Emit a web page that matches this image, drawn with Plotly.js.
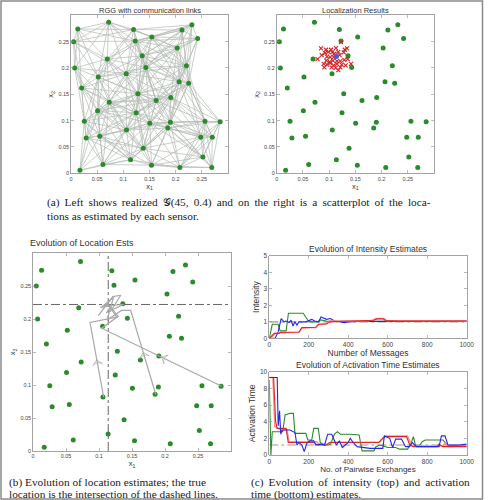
<!DOCTYPE html>
<html><head><meta charset="utf-8">
<script src="https://cdn.plot.ly/plotly-3.0.1.min.js"></script>
<style>html,body{margin:0;padding:0;background:#fff;}#chart{width:488px;height:500px;}</style>
</head><body><div id="chart"></div>
<script>
// ---------- data ----------
const sensorX = [0.013,0.072,0.005,0.007,0.1195,0.1227,0.1545,0.212,0.231,0.242,0.203,0.2206,0.2066,0.225,0.0693,0.136,0.143,0.1055,0.052,0.0203,0.1278,0.1627,0.1907,0.073,0.0508,0.1246,0.0254,0.1506,0.19,0.185,0.106,0.256,0.285,0.029,0.055,0.248,0.27,0.138,0.1138,0.061,0.1538,0.017,0.208,0.252,0.269];
const sensorY = [0.274,0.287,0.25,0.2,0.273,0.251,0.259,0.272,0.282,0.256,0.238,0.204,0.174,0.171,0.217,0.223,0.201,0.189,0.183,0.162,0.151,0.138,0.144,0.135,0.119,0.115,0.099,0.095,0.097,0.086,0.082,0.099,0.098,0.067,0.0705,0.0686,0.0686,0.0474,0.0256,0.0167,0.0154,0.0058,0.011,0.031,0.011];
const CONNECT_RADIUS = 0.12;

const estX = [0.0845,0.094,0.1035,0.113,0.1226,0.130,0.134,0.078,0.0858,0.0921,0.0985,0.106,0.110,0.1175,0.120,0.1278,0.096,0.102,0.1087,0.0946,0.101,0.1073,0.115,0.1214,0.129,0.1354,0.0896,0.096,0.102,0.1087,0.115,0.124,0.1125,0.1214,0.1315,0.1417,0.0908,0.1048,0.1175];
const estY = [0.237,0.2346,0.2346,0.2377,0.249,0.2346,0.237,0.2166,0.2243,0.228,0.2307,0.2295,0.227,0.2307,0.2243,0.2295,0.2217,0.2205,0.2205,0.214,0.2115,0.214,0.2128,0.2128,0.2153,0.2166,0.2077,0.2064,0.209,0.205,0.2077,0.2064,0.2,0.2013,0.205,0.2077,0.2013,0.2013,0.196];
const trueLocX = [0.114];
const trueLocY = [0.222];

const pathAX = [0.286,0.104,0.129,0.113,0.099,0.121,0.133,0.117];
const pathAY = [0.098,0.186,0.204,0.224,0.205,0.234,0.236,0.211];
const pathBX = [0.107,0.0864,0.127,0.112,0.102,0.119,0.111];
const pathBY = [0.0815,0.1947,0.203,0.224,0.217,0.221,0.209];
const pathCX = [0.186,0.148,0.134,0.112,0.122,0.107,0.137,0.116];
const pathCY = [0.0856,0.213,0.213,0.198,0.233,0.22,0.222,0.212];

const intRedX   = [0,15,25,50,55,150,165,235,250,290,305,350,400,500,530,545,575,590,650,800,1000];
const intRedY   = [0,0.15,0.3,0.3,0.35,0.38,0.65,0.67,0.85,0.87,1.0,1.02,1.03,1.05,1.1,1.18,1.18,1.08,1.05,1.05,1.05];
const intPinkX  = [0,20,30,55,150,165,235,250,290,305,390,500,525,540,580,595,1000];
const intPinkY  = [0,0.15,0.3,0.33,0.36,0.62,0.66,0.85,0.9,1.05,1.05,1.06,1.12,1.2,1.2,1.08,1.06];
const intGreenX = [0,15,45,55,85,97,172,195,210,245,258,290,350,500,600,1000];
const intGreenY = [0,0.85,0.85,0.45,0.45,1.52,1.52,1.1,1.0,1.0,1.12,1.05,1.03,1.05,1.04,1.05];
const intBlueX  = [0,30,45,60,75,85,100,110,120,130,140,150,185,200,215,230,250,262,275,290,310,330,360,385,400,450,600,1000];
const intBlueY  = [0,0,0.4,1.2,1.0,1.05,0.95,1.1,0.75,1.0,0.8,1.0,1.0,1.1,1.15,1.05,1.0,1.3,1.25,1.15,1.2,1.05,1.0,0.95,1.0,1.02,1.03,1.05];
const intRefX = [0,1000];
const intRefY = [1,1];

const actRedX   = [0,22,32,40,85,96,230,240,290,305,555,565,585,695,712,730,850,860,880,1000];
const actRedY   = [9.3,9.3,4.0,3.2,3.2,1.5,1.5,1.2,1.2,1.5,1.5,1.8,2.2,2.2,1.2,1.0,1.0,1.3,1.0,1.0];
const actPinkX  = [0,18,28,60,90,100,240,250,300,310,560,575,590,700,715,725,880,890,910,1000];
const actPinkY  = [9.3,9.3,3.4,3.0,3.0,1.6,1.6,1.3,1.3,1.55,1.55,2.0,2.3,2.3,1.5,1.1,1.1,1.4,1.0,1.1];
const actGreenX = [0,8,15,68,80,105,122,130,185,195,215,225,248,258,275,290,310,330,345,360,410,455,470,530,540,560,590,600,640,660,700,715,730,740,760,775,790,880,905,1000];
const actGreenY = [9.0,0,2.8,2.8,4.8,5.0,5.0,2.6,2.6,1.8,1.8,3.2,3.2,1.5,1.3,1.2,1.3,2.5,2.8,2.5,2.5,2.4,0.5,0.5,1.0,1.2,1.0,0.9,0.9,0.7,0.7,1.2,2.2,1.2,1.1,1.6,1.8,1.8,1.1,1.1];
const actBlueX  = [0,40,45,52,58,65,105,130,140,150,165,177,190,205,225,235,260,280,296,316,325,340,355,370,400,410,425,445,510,575,583,610,625,640,670,690,710,725,745,860,872,890,905,960,1000];
const actBlueY  = [9.3,9.3,3.5,5.3,2.5,3.0,3.0,2.7,1.2,1.5,1.2,0.4,1.4,1.7,1.7,1.2,1.3,1.2,2.5,2.5,2.0,1.2,1.7,0.9,1.5,2.0,1.5,1.0,0.8,0.8,2.3,2.0,0.9,1.9,1.9,1.0,1.0,1.5,1.0,1.0,2.3,2.3,1.2,1.2,1.3];
const actRefX = [0,1000];
const actRefY = [1.2,1.2];

const posTicks = [0,0.05,0.1,0.15,0.2,0.25];
const posTickText = ['0','0.05','0.1','0.15','0.2','0.25'];
const msgTicks = [0,200,400,600,800,1000];
const msgTickText = ['0','200','400','600','800','1000'];
const intTicks = [0,1,2,3,4,5];
const actTicks = [0,2,4,6,8,10];

// ---------- styles ----------
const W = 488, H = 500;
const xd = (l, r) => [l / W, r / W];
const yd = (t, b) => [1 - b / H, 1 - t / H];
const px = v => v / W, py = v => 1 - v / H;
const GREEN = '#2b8a2b', RED = '#e02626', BLUE = '#2626e6', PINK = '#ff8c8c', GRAYLINK = '#b3bab3', PATH = '#a8a8a8';
const SANS = 'Liberation Sans, Arial, sans-serif';
const SERIF = 'Liberation Serif, DejaVu Serif, serif';

// links derived from sensor positions (RGG)
const linkX = [], linkY = [];
for (let i = 0; i < sensorX.length; i++) {
  for (let j = i + 1; j < sensorX.length; j++) {
    const d = Math.hypot(sensorX[i] - sensorX[j], sensorY[i] - sensorY[j]);
    if (d <= CONNECT_RADIUS) { linkX.push(sensorX[i], sensorX[j], null); linkY.push(sensorY[i], sensorY[j], null); }
  }
}

const sensorMarker = {color: GREEN, size: 5, line: {width: 0}};
const traces = [
  {x: linkX, y: linkY, xaxis: 'x', yaxis: 'y', mode: 'lines', line: {color: GRAYLINK, width: 0.7}, hoverinfo: 'skip'},
  {x: sensorX, y: sensorY, xaxis: 'x', yaxis: 'y', mode: 'markers', marker: sensorMarker},
  {x: sensorX, y: sensorY, xaxis: 'x2', yaxis: 'y2', mode: 'markers', marker: sensorMarker},
  {x: estX, y: estY, xaxis: 'x2', yaxis: 'y2', mode: 'markers', marker: {symbol: 'x-thin', size: 4, line: {color: '#d42222', width: 1.1}}},
  {x: trueLocX, y: trueLocY, xaxis: 'x2', yaxis: 'y2', mode: 'markers', marker: {color: '#4b5bd0', size: 5}},
  {x: sensorX, y: sensorY, xaxis: 'x3', yaxis: 'y3', mode: 'markers', marker: sensorMarker},
  {x: [trueLocX[0], trueLocX[0]], y: [0, 0.3], xaxis: 'x3', yaxis: 'y3', mode: 'lines', line: {color: '#666', width: 1, dash: 'dashdot'}},
  {x: [0, 0.3], y: [trueLocY[0], trueLocY[0]], xaxis: 'x3', yaxis: 'y3', mode: 'lines', line: {color: '#666', width: 1, dash: 'dashdot'}},
  {x: pathAX, y: pathAY, xaxis: 'x3', yaxis: 'y3', mode: 'lines', line: {color: PATH, width: 1.2}},
  {x: pathBX, y: pathBY, xaxis: 'x3', yaxis: 'y3', mode: 'lines', line: {color: PATH, width: 1.2}},
  {x: pathCX, y: pathCY, xaxis: 'x3', yaxis: 'y3', mode: 'lines', line: {color: PATH, width: 1.2}},
  // intensity
  {x: intRefX, y: intRefY, xaxis: 'x4', yaxis: 'y4', mode: 'lines', line: {color: '#9a9a9a', width: 1.2, dash: 'dashdot'}},
  {x: intGreenX, y: intGreenY, xaxis: 'x4', yaxis: 'y4', mode: 'lines', line: {color: GREEN, width: 1.1}},
  {x: intBlueX, y: intBlueY, xaxis: 'x4', yaxis: 'y4', mode: 'lines', line: {color: BLUE, width: 1.1}},
  {x: intPinkX, y: intPinkY, xaxis: 'x4', yaxis: 'y4', mode: 'lines', line: {color: PINK, width: 1.4}},
  {x: intRedX, y: intRedY, xaxis: 'x4', yaxis: 'y4', mode: 'lines', line: {color: RED, width: 1.1}},
  // activation
  {x: actRefX, y: actRefY, xaxis: 'x5', yaxis: 'y5', mode: 'lines', line: {color: '#9a9a9a', width: 1.2, dash: 'dashdot'}},
  {x: actGreenX, y: actGreenY, xaxis: 'x5', yaxis: 'y5', mode: 'lines', line: {color: GREEN, width: 1.1}},
  {x: actPinkX, y: actPinkY, xaxis: 'x5', yaxis: 'y5', mode: 'lines', line: {color: PINK, width: 1.4}},
  {x: actRedX, y: actRedY, xaxis: 'x5', yaxis: 'y5', mode: 'lines', line: {color: RED, width: 1.1}},
  {x: actBlueX, y: actBlueY, xaxis: 'x5', yaxis: 'y5', mode: 'lines', line: {color: BLUE, width: 1.1}}
];

// direction arrows at the middle of each path's first leg (rotated along the path)
[[pathAX, pathAY], [pathBX, pathBY], [pathCX, pathCY]].forEach(([X, Y]) => {
  const t = 0.5;
  traces.push({
    x: [X[0], X[0] + (X[1] - X[0]) * t], y: [Y[0], Y[0] + (Y[1] - Y[0]) * t],
    xaxis: 'x3', yaxis: 'y3', mode: 'markers',
    marker: {symbol: 'arrow-wide-open', size: [0, 7], angleref: 'previous', color: PATH, line: {color: PATH, width: 1}}
  });
});

function axis(domain, range, anchor, tickvals, ticktext, fs, title, tfs, standoff) {
  return {
    domain, range, anchor, tickvals, ticktext,
    tickmode: 'array', showline: true, linecolor: '#8c8c8c', linewidth: 0.8, mirror: 'ticks',
    ticks: 'inside', ticklen: 3, tickwidth: 0.6, tickcolor: '#8c8c8c',
    showgrid: false, zeroline: false, fixedrange: true,
    tickfont: {family: SANS, size: fs, color: '#444'},
    title: {text: title, font: {family: SANS, size: tfs, color: '#333'}, standoff: standoff}
  };
}

const layout = {
  width: W, height: H, margin: {l: 0, r: 0, t: 0, b: 0},
  paper_bgcolor: '#fff', plot_bgcolor: '#fff', showlegend: false,
  xaxis:  axis(xd(71, 228), [0, 0.3], 'y', posTicks, posTickText, 5.5, 'x<sub>1</sub>', 7.5, 1),
  yaxis:  axis(yd(15.3, 173.3), [0, 0.3], 'x', posTicks, posTickText, 5.5, 'x<sub>2</sub>', 7.5, 3),
  xaxis2: axis(xd(276.7, 434), [0, 0.3], 'y2', posTicks, posTickText, 5.5, 'x<sub>1</sub>', 7.5, 1),
  yaxis2: axis(yd(15.3, 173.3), [0, 0.3], 'x2', posTicks, posTickText, 5.5, 'x<sub>2</sub>', 7.5, 3),
  xaxis3: axis(xd(33, 231), [0, 0.3], 'y3', posTicks, posTickText, 5.5, 'x<sub>1</sub>', 7.5, 1),
  yaxis3: axis(yd(253, 451), [0, 0.3], 'x3', posTicks, posTickText, 5.5, 'x<sub>2</sub>', 7.5, 3),
  xaxis4: axis(xd(269.3, 466.7), [0, 1000], 'y4', msgTicks, msgTickText, 6.5, 'Number of Messages', 8.5, 0),
  yaxis4: axis(yd(256, 338.3), [0, 5], 'x4', intTicks, intTicks.map(String), 6.5, 'Intensity', 8.5, 2),
  xaxis5: axis(xd(269.3, 466.7), [0, 1000], 'y5', msgTicks, msgTickText, 6.5, 'No. of Pairwise Exchanges', 8, 0),
  yaxis5: axis(yd(371.7, 455), [0, 10], 'x5', actTicks, actTicks.map(String), 6.5, 'Activation Time', 8.5, 2),
  shapes: [
    {type: 'rect', xref: 'paper', yref: 'paper', x0: px(1), x1: px(482.5), y0: py(499), y1: py(1), line: {color: '#8a8a8a', width: 1.5}}
  ],
  annotations: []
};

function note(text, x, y, size, family, anchor, color) {
  layout.annotations.push({text, x: px(x), y: py(y), xref: 'paper', yref: 'paper', showarrow: false,
    xanchor: anchor || 'center', yanchor: 'middle', font: {family: family || SANS, size, color: color || '#333'}});
}
note('RGG with communication links', 149.5, 10, 7.5);
note('Localization Results', 355.5, 10, 7.5);
note('Evolution of Location Ests', 82, 243, 9);
note('Evolution of Intensity Estimates', 368, 248.5, 8.5);
note('Evolution of Activation Time Estimates', 368, 365, 8.5);

// justified caption lines get a thin space added to each word gap
const justify = s => s.split(' ').join(' \u2009');
const CAP = 11.3, CAPC = '#1a1a1a';
note(justify('(a) Left shows realized 𝒢(45, 0.4) and on the right is a scatterplot of the loca-'), 45, 202.5, CAP, SERIF, 'left', CAPC);
note('tions as estimated by each sensor.', 45, 215.5, CAP, SERIF, 'left', CAPC);
note('(b) Evolution of location estimates; the true', 7, 482, CAP, SERIF, 'left', CAPC);
note('location is the intersection of the dashed lines.', 7, 494, CAP, SERIF, 'left', CAPC);
note(justify('(c) Evolution of intensity (top) and activation'), 249, 482, CAP, SERIF, 'left', CAPC);
note('time (bottom) estimates.', 249, 494, CAP, SERIF, 'left', CAPC);

Plotly.newPlot('chart', traces, layout, {staticPlot: true, displayModeBar: false});
</script></body></html>
